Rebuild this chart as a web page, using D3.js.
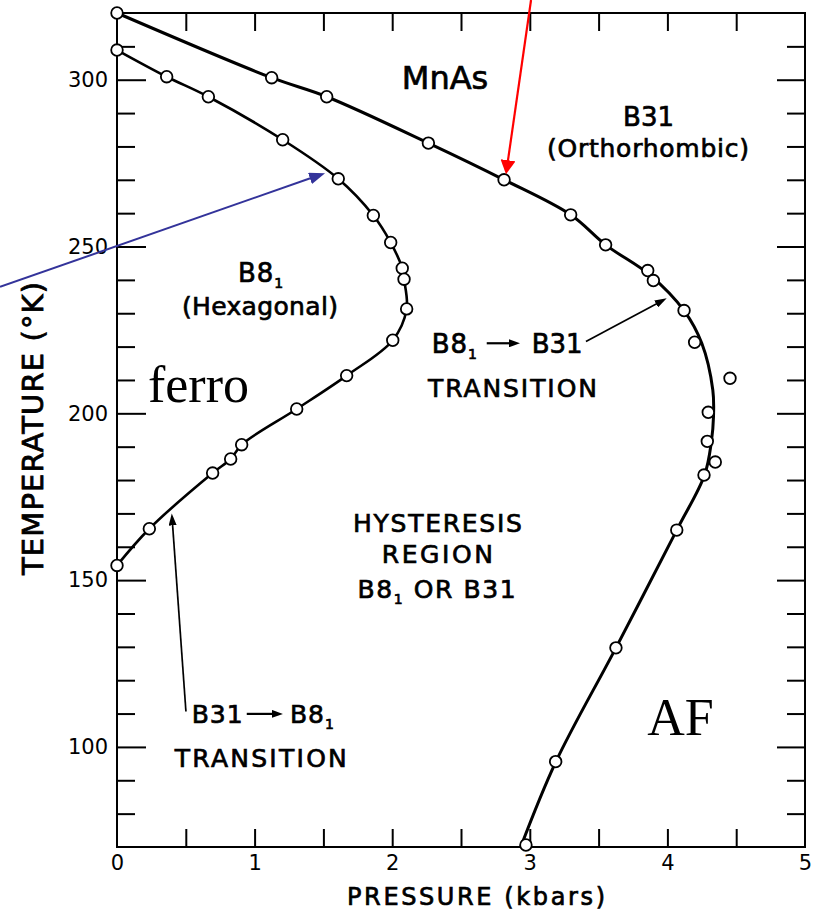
<!DOCTYPE html>
<html>
<head>
<meta charset="utf-8">
<script src="https://cdn.jsdelivr.net/npm/d3@7"></script>
<style>
  html, body { margin: 0; padding: 0; background: #fff; }
  svg { display: block; font-family: "DejaVu Sans", sans-serif; }
</style>
</head>
<body>
<svg id="chart" width="815" height="913"></svg>
<script>
// MnAs pressure–temperature phase diagram.
// Each pair is [pressure (kbar), temperature (K)].

// B31 -> B8(1) transition points (inner loop)
const innerPoints = [
  [0, 308.9], [0.361, 300.9], [0.664, 294.9], [1.204, 282.0], [1.608, 270.3],
  [1.863, 259.3], [1.989, 251.2], [2.073, 243.5], [2.086, 240.2], [2.105, 231.3],
  [2.004, 221.9], [1.669, 211.3], [1.306, 201.3], [0.906, 190.6], [0.826, 186.3],
  [0.695, 182.1], [0.235, 165.4], [0, 154.4]
];

// B8(1) -> B31 transition points (outer boundary)
const outerPoints = [
  [0, 320], [1.124, 300.6], [1.524, 294.9], [2.263, 281.0], [2.813, 270.0],
  [3.297, 259.5], [3.551, 250.5], [3.857, 242.8], [3.898, 239.8], [4.121, 230.8],
  [4.198, 221.3], [4.455, 210.5], [4.297, 200.3], [4.290, 191.6], [4.348, 185.4],
  [4.266, 181.5], [4.068, 165.0], [3.626, 129.7], [3.188, 95.6], [2.972, 70.6]
];

// Smooth boundary drawn through the outer points
const outerCurve = [
  [0, 320], [1.124, 300.6], [1.524, 294.9], [2.263, 281.0], [2.813, 270.0],
  [3.297, 259.5], [3.551, 250.5], [3.878, 241.3], [4.121, 230.8], [4.25, 221.0],
  [4.33, 207.0], [4.335, 199.0], [4.32, 191.6], [4.27, 181.5], [4.068, 165.0],
  [3.626, 129.7], [3.19, 95.6], [2.934, 70]
];
const innerCurve = innerPoints;

// Axis ticks
const xTickValues = [0, 1, 2, 3, 4, 5];
const xMinorTicks = [0.5, 1, 1.5, 2, 2.5, 3, 3.5, 4, 4.5];
const yTickValues = [100, 150, 200, 250, 300];
const yMinorTicks = [80, 90, 110, 120, 130, 140, 160, 170, 180, 190, 210, 220, 230, 240, 260, 270, 280, 290, 310];

// Annotation arrows: [start, end] in data units
const arrows = [
  { from: [3.408, 221.5], to: [3.995, 234.5], color: "#000", w: 1.7, head: [12, 8] },
  { from: [0.501, 110.6], to: [0.398, 170.0], color: "#000", w: 1.7, head: [12, 8] },
  { from: [2.687, 221.0], to: [2.929, 221.0], color: "#000", w: 2.2, head: [11, 8] },
  { from: [0.943, 109.9], to: [1.206, 109.9], color: "#000", w: 2.2, head: [11, 8] },
  { from: [-0.850, 237.9], to: [1.512, 272.0], color: "#33339a", w: 2, head: [16, 12] },
  { from: [3.009, 323.9], to: [2.827, 271.7], color: "#ff0000", w: 2.2, head: [14, 15] }
];

// Text labels; parts with sub:true are subscripts
const labels = [
  { parts: [{ s: "MnAs" }], p: 2.384, t: 297.2, size: 32 },
  { parts: [{ s: "B31" }], p: 3.863, t: 286.1, size: 26 },
  { parts: [{ s: "(Orthorhombic)" }], p: 3.859, t: 276.8, size: 25, len: 202 },
  { parts: [{ s: "B8" }, { s: "1", sub: true }], p: 1.047, t: 239.4, size: 26, ls: 1 },
  { parts: [{ s: "(Hexagonal)" }], p: 1.039, t: 229.6, size: 25, len: 156 },
  { parts: [{ s: "B8" }, { s: "1", sub: true }], p: 2.287, t: 218.0, size: 26, ls: 1, anchor: "start" },
  { parts: [{ s: "B31" }], p: 3.014, t: 218.0, size: 26, anchor: "start" },
  { parts: [{ s: "TRANSITION" }], p: 2.874, t: 204.9, size: 25, len: 169 },
  { parts: [{ s: "HYSTERESIS" }], p: 2.329, t: 164.5, size: 25, len: 169 },
  { parts: [{ s: "REGION" }], p: 2.328, t: 155.1, size: 25, len: 111 },
  { parts: [{ s: "B8" }, { s: "1", sub: true }, { s: " OR B31" }], p: 2.328, t: 144.6, size: 25, ls: 1.6 },
  { parts: [{ s: "B31" }], p: 0.543, t: 107.2, size: 25, ls: 1, anchor: "start" },
  { parts: [{ s: "B8" }, { s: "1", sub: true }], p: 1.257, t: 107.2, size: 25, ls: 1, anchor: "start" },
  { parts: [{ s: "TRANSITION" }], p: 1.045, t: 94.0, size: 25, len: 172 },
  { parts: [{ s: "ferro" }], p: 0.225, t: 203.4, size: 52, serif: true, anchor: "start" },
  { parts: [{ s: "AF" }], p: 4.095, t: 103.6, size: 52, serif: true }
];

const margin = { top: 13, right: 10, bottom: 66, left: 117 };
const W = 815, H = 913;
const width = W - margin.left - margin.right;
const height = H - margin.top - margin.bottom;

const svg = d3.select("#chart");
const g = svg.append("g").attr("transform", `translate(${margin.left},${margin.top})`);

const x = d3.scaleLinear().domain([0, 5]).range([0, width]);
const y = d3.scaleLinear().domain([70, 320]).range([height, 0]);

// Axes: ticks point into the plot
function styleAxis(sel) {
  sel.select(".domain").remove();
  sel.selectAll(".tick line").attr("stroke", "#000").attr("stroke-width", 2);
  sel.selectAll(".tick text")
    .attr("fill", "#000")
    .style("font-family", '"DejaVu Sans", sans-serif')
    .style("font-size", "21px");
}

g.append("g").call(d3.axisLeft(y).tickValues(yMinorTicks).tickSizeInner(-18).tickSizeOuter(0).tickFormat(""))
  .call(styleAxis);
g.append("g").call(d3.axisLeft(y).tickValues(yTickValues).tickSizeInner(-29).tickSizeOuter(0).tickPadding(9).tickFormat(d3.format("d")))
  .call(styleAxis);
g.append("g").attr("transform", `translate(${width},0)`)
  .call(d3.axisRight(y).tickValues(yMinorTicks).tickSizeInner(-18).tickSizeOuter(0).tickFormat(""))
  .call(styleAxis);
g.append("g").attr("transform", `translate(${width},0)`)
  .call(d3.axisRight(y).tickValues(yTickValues).tickSizeInner(-28).tickSizeOuter(0).tickFormat(""))
  .call(styleAxis);
g.append("g").attr("transform", `translate(0,${height})`)
  .call(d3.axisBottom(x).tickValues(xMinorTicks).tickSizeInner(-18).tickSizeOuter(0).tickFormat(""))
  .call(styleAxis);
g.append("g").attr("transform", `translate(0,${height})`)
  .call(d3.axisBottom(x).tickValues(xTickValues).tickSizeInner(0).tickSizeOuter(0).tickPadding(8).tickFormat(d3.format("d")))
  .call(styleAxis);
g.append("g")
  .call(d3.axisTop(x).tickValues(xMinorTicks).tickSizeInner(-18).tickSizeOuter(0).tickFormat(""))
  .call(styleAxis);

// Frame
g.append("rect")
  .attr("x", 0).attr("y", 0).attr("width", width).attr("height", height)
  .attr("fill", "none").attr("stroke", "#000").attr("stroke-width", 2);

// Axis titles (slightly heavier strokes for the lettering)
svg.append("text")
  .attr("x", 476).attr("y", 905)
  .attr("text-anchor", "middle")
  .attr("textLength", 258).attr("lengthAdjust", "spacing")
  .attr("stroke", "#000").attr("stroke-width", 0.7)
  .style("font-size", "24px")
  .text("PRESSURE (kbars)");

svg.append("text")
  .attr("transform", "translate(43,428.5) rotate(-90)")
  .attr("text-anchor", "middle")
  .attr("textLength", 293).attr("lengthAdjust", "spacing")
  .attr("stroke", "#000").attr("stroke-width", 0.8)
  .style("font-size", "29px")
  .text("TEMPERATURE (°K)");

// Phase boundaries
const line = d3.line()
  .x(d => x(d[0])).y(d => y(d[1]))
  .curve(d3.curveCatmullRom.alpha(0.5));

g.append("path").datum(outerCurve)
  .attr("d", line).attr("fill", "none")
  .attr("stroke", "#000").attr("stroke-width", 3).attr("stroke-linejoin", "round");
g.append("path").datum(innerCurve)
  .attr("d", line).attr("fill", "none")
  .attr("stroke", "#000").attr("stroke-width", 2.6).attr("stroke-linejoin", "round");

// Measured points
g.append("g").selectAll("circle")
  .data(outerPoints.concat(innerPoints))
  .join("circle")
  .attr("cx", d => x(d[0])).attr("cy", d => y(d[1]))
  .attr("r", 5.8)
  .attr("fill", "#fff").attr("stroke", "#000").attr("stroke-width", 1.8);

// Labels
labels.forEach(l => {
  const t = g.append("text")
    .attr("x", x(l.p)).attr("y", y(l.t))
    .attr("text-anchor", l.anchor || "middle")
    .style("font-family", l.serif ? '"Liberation Serif", "Times New Roman", serif' : '"DejaVu Sans", sans-serif')
    .style("font-size", l.size + "px")
    .attr("fill", "#000");
  if (!l.serif) t.attr("stroke", "#000").attr("stroke-width", 0.7);
  if (l.len) t.attr("textLength", l.len).attr("lengthAdjust", "spacing");
  if (l.ls) t.style("letter-spacing", l.ls + "px");
  let shifted = false;
  l.parts.forEach(part => {
    const ts = t.append("tspan").text(part.s);
    if (part.sub) {
      ts.attr("dy", 6).style("font-size", "14px");
      shifted = true;
    } else if (shifted) {
      ts.attr("dy", -6);
      shifted = false;
    }
  });
});

// Arrows with filled heads
const defs = svg.append("defs");
arrows.forEach((a, i) => {
  const [hl, hw] = a.head;
  defs.append("marker")
    .attr("id", "head" + i)
    .attr("markerUnits", "userSpaceOnUse")
    .attr("viewBox", `${-hl} ${-hw / 2} ${hl} ${hw}`)
    .attr("refX", 0).attr("refY", 0)
    .attr("markerWidth", hl).attr("markerHeight", hw)
    .attr("orient", "auto")
    .append("path")
    .attr("d", `M0,0 L${-hl},${-hw / 2} L${-hl},${hw / 2} Z`)
    .attr("fill", a.color);
  const x1 = x(a.from[0]), y1 = y(a.from[1]);
  const x2 = x(a.to[0]), y2 = y(a.to[1]);
  const len = Math.hypot(x2 - x1, y2 - y1);
  const k = (len - hl * 0.6) / len;
  g.append("line")
    .attr("x1", x1).attr("y1", y1)
    .attr("x2", x1 + (x2 - x1) * k).attr("y2", y1 + (y2 - y1) * k)
    .attr("stroke", a.color).attr("stroke-width", a.w);
  g.append("line")
    .attr("x1", x1 + (x2 - x1) * k).attr("y1", y1 + (y2 - y1) * k)
    .attr("x2", x2).attr("y2", y2)
    .attr("stroke", "none")
    .attr("marker-end", `url(#head${i})`);
});
</script>
</body>
</html>
